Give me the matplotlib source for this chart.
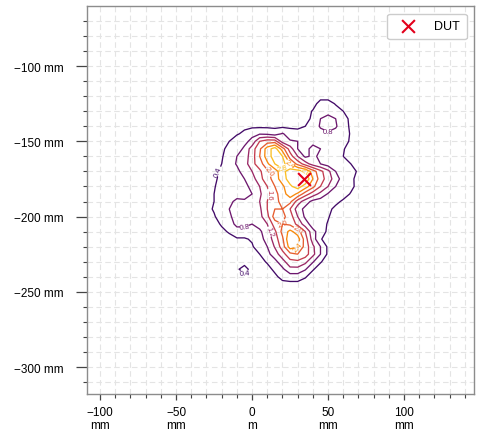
import matplotlib
matplotlib.use('Agg')
import matplotlib.pyplot as plt
import numpy as np
from matplotlib.ticker import EngFormatter, MultipleLocator

plt.rcParams['font.family'] = ['Liberation Sans', 'DejaVu Sans']
plt.rcParams['font.size'] = 8.5

# scan grid (mm), 5 mm spacing
grid_x_mm = np.arange(-30, 76, 5)
grid_y_mm = np.arange(-115, -251, -5)

# contour level index at every grid node (rows top -> bottom)
level_grid = [
    [0,0,0,0,0,0,0,0,0,0,0,0,0,0,0,0,0,0,0,0,0,0],
    [0,0,0,0,0,0,0,0,0,0,0,0,0,0,0,0,0,0,0,0,0,0],
    [0,0,0,0,0,0,0,0,0,0,0,0,0,0,0,1,1,0.4,0,0,0,0],
    [0,0,0,0,0,0,0,0,0,0,0,0,0,0,0.6,1,1,1,0.5,0,0,0],
    [0,0,0,0,0,0,0,0,0,0,0,0,0,0,0.8,1.5,2,1.5,1,0.2,0,0],
    [0,0,0,0,0,0.3,0.3,0.3,0.3,0.3,0.3,0.3,0.2,0.5,1,1.6,2,1.6,1,0.3,0,0],
    [0,0,0,0,0.4,0.7,1.2,1.4,1.3,1,1.6,1,1,1,1,1.2,1.3,1.2,1,0.4,0,0],
    [0,0,0,0.5,1,1.2,1.8,3.5,4,4,2,1.6,1.5,1,1,1,1,1,1,0.3,0,0],
    [0,0,0.3,0.8,1,1.7,3,4.3,6,7,5,3,1.5,1,2,1.5,1,1,0.6,0,0,0],
    [0,0,0.4,1,1.5,2,3,4.5,6,7,6.5,4,2.5,1.3,1.7,1.3,1,1,0.5,0,0,0],
    [0,0,0.5,1,1.6,2,3.2,4,5.3,6.5,7,5.5,4.2,3,2,1.5,1,1,1,0.5,0,0],
    [0,0.2,0.7,1,1.2,2,2.5,3.3,4.3,5,6.2,7,7,6.5,5,3.8,2.8,1.5,1,1,0.3,0],
    [0,0.3,0.8,1,1,1.5,2,3.2,4,5,6,7,7.5,7.5,5.5,4,3,2,1,0.7,0.2,0],
    [0,0.4,1,1,1,1,2,2.5,3.5,4.5,5.3,6.3,7,6,4.8,3.5,2.5,1.5,1,0.8,0.1,0],
    [0,0.5,1,1,1,1,1.5,2.3,3.3,4.2,5,6.1,5.3,4,3,2.2,1.4,1,1,0.4,0,0],
    [0.2,0.5,1,1.2,1.8,1.7,1.6,2.5,3.5,4,5,4.8,3,2,1.2,1,1,0.8,0.3,0,0,0],
    [0.2,0.6,1,1.5,2,2,1.7,2.3,3.5,4.5,4.5,3.5,2,1.2,1,1,0.8,0.2,0,0,0,0],
    [0,0.4,1,1.3,2,2.1,1.7,2.2,3.2,5,4.8,4,2.5,1.3,1,1,0.6,0,0,0,0,0],
    [0,0.2,0.6,1,1.8,1.8,1.5,1.9,2.5,4,4.5,4.3,3.2,2,1,1,0.4,0,0,0,0,0],
    [0,0,0.3,0.6,1,1,1,1.3,2.1,3.3,4.8,5.8,5,3.5,1.8,1,0.3,0,0,0,0,0],
    [0,0,0,0.2,0.4,0.4,0.6,1.2,1.8,3,4.3,6.5,6,4,2,0.6,0,0,0,0,0,0],
    [0,0,0,0,0,0.2,0.4,1,1.5,2.6,4,6,5.6,4.1,2.7,1.5,0.3,0,0,0,0,0],
    [0,0,0,0,0,0,0.1,0.5,1.2,2,3.1,4.2,4.5,4,2.8,1.5,0.3,0,0,0,0,0],
    [0,0,0,0,0,0,0,0.2,0.6,1.2,2.1,3.2,3.3,2.8,1.6,0.6,0,0,0,0,0,0],
    [0,0,0,0,0.3,1,0,0,0.2,0.7,1.3,2.2,2.2,1.6,0.6,0,0,0,0,0,0,0],
    [0,0,0,0,0,0,0,0,0,0.3,0.8,1,1,0.6,0,0,0,0,0,0,0,0],
    [0,0,0,0,0,0,0,0,0,0,0.2,0.2,0.2,0,0,0,0,0,0,0,0,0],
    [0,0,0,0,0,0,0,0,0,0,0,0,0,0,0,0,0,0,0,0,0,0],
]
contour_levels = [0.4, 0.8, 1.2, 1.6, 2.0, 2.4, 2.8]

dut_x_mm = [34]
dut_y_mm = [-175]

xlim_mm = (-108.6, 146.0)
ylim_mm = (-317.9, -60.1)

fig = plt.figure(figsize=(4.83, 4.39), dpi=100, facecolor='white')
ax = fig.add_axes([87/483, 44/439, 387/483, 388/439])

X, Y = np.meshgrid(grid_x_mm / 1000, grid_y_mm / 1000)
field = 0.4 * (np.array(level_grid) + 0.5)
cols = plt.get_cmap('inferno')(np.linspace(0.2, 0.85, len(contour_levels)))
cs = ax.contour(X, Y, field, levels=contour_levels, colors=cols, linewidths=0.95, zorder=3)
ax.clabel(cs, inline=True, fontsize=5.5, fmt='%.1f')

ax.scatter(np.array(dut_x_mm) / 1000, np.array(dut_y_mm) / 1000, marker='x', s=85,
           color='#e3001b', linewidths=1.5, label='DUT', zorder=5)

ax.set_xlim(xlim_mm[0] / 1000, xlim_mm[1] / 1000)
ax.set_ylim(ylim_mm[0] / 1000, ylim_mm[1] / 1000)

ax.xaxis.set_major_locator(MultipleLocator(0.05))
ax.yaxis.set_major_locator(MultipleLocator(0.05))
ax.xaxis.set_minor_locator(MultipleLocator(0.01))
ax.yaxis.set_minor_locator(MultipleLocator(0.01))
ax.xaxis.set_major_formatter(EngFormatter(unit='m', sep='\n'))
ax.yaxis.set_major_formatter(EngFormatter(unit='m'))

ax.set_axisbelow(True)
ax.grid(True, which='both', linestyle=(0, (5, 3)), color='#e4e4e4', linewidth=0.8)

for sp in ax.spines.values():
    sp.set_color('#8c8c8c')
    sp.set_linewidth(1.0)
ax.tick_params(axis='x', which='major', direction='out', length=4.3, width=0.9, color='#444444', pad=4)
ax.tick_params(axis='y', which='major', direction='out', length=7.9, width=0.9, color='#444444', pad=9)
ax.tick_params(which='minor', direction='out', length=3.2, width=0.8, color='#444444')

leg = ax.legend(loc='upper right', fontsize=9, framealpha=1.0, edgecolor='#cccccc',
                borderpad=0.55, handlelength=2.2, handletextpad=1.0, borderaxespad=0.6)

fig.savefig('out.png', dpi=100, facecolor='white')
